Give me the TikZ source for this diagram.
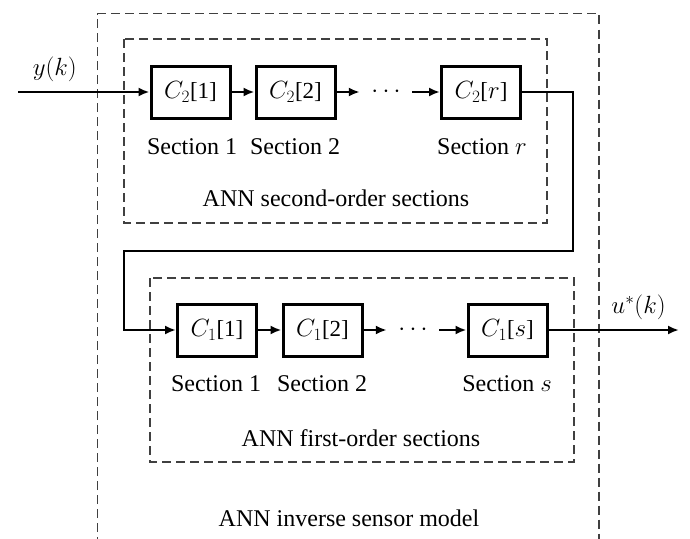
\documentclass[tikz,border=0pt]{standalone}
\usepackage{fontspec}
\setmainfont{Liberation Serif}
\usetikzlibrary{arrows.meta,positioning}
\tikzset{%
  >={Latex[length=11pt,width=9pt]},
  block/.style={draw,line width=3pt,minimum width=79pt,minimum height=52pt,
    inner sep=0pt,font=\fontsize{23}{26}\selectfont},
  label/.style={inner sep=0pt,font=\fontsize{24}{27}\selectfont},
  dots/.style={label,minimum width=52pt},
  group/.style={draw=black!75,line width=1.5pt,dash pattern=on 9pt off 5pt},
  wire/.style={line width=2.6pt}
}
\begin{document}
\begin{tikzpicture}[x=1pt,y=-1pt]
\useasboundingbox (0,0) rectangle (690,538);
\clip (0,0) rectangle (690,538);

%% dashed groups
\draw[group] (97.5,560) -- (97.5,13.5) -- (599,13.5) -- (599,560);
\draw[group] (124,39) rectangle (547,223);
\draw[group] (150,278) rectangle (574,462);

%% second-order sections
\node[block] (c21) at (190.5,92) {$C_2$[1]};
\node[block] (c22) at (295.5,92) {$C_2$[2]};
\node[block] (c2r) at (481,92) {$C_2$[$r$]};
\node[dots] (dots2) at (386,92) {$\cdots$};
\coordinate (in) at (18,92);

%% first-order sections
\node[block] (c11) at (217,330) {$C_1$[1]};
\node[block] (c12) at (322.5,330) {$C_1$[2]};
\node[block] (c1s) at (507.5,330) {$C_1$[$s$]};
\node[dots] (dots1) at (413,330) {$\cdots$};
\coordinate (out) at (679,330);

%% labels
\node[label] at (192,147) {Section 1};
\node[label] at (295,147) {Section 2};
\node[label] at (482,147) {Section $r$};
\node[label] at (336,198) {ANN second-order sections};
\node[label] at (216,384) {Section 1};
\node[label] at (322,384) {Section 2};
\node[label] at (507,384) {Section $s$};
\node[label] at (361,438) {ANN first-order sections};
\node[label] at (349,518) {ANN inverse sensor model};

%% signal flow
\draw[wire,->] (in) -- node[label,above=9pt,pos=0.28] {$y(k)$} (c21);
\draw[wire,->] (c21) -- (c22);
\draw[wire,->] (c22) -- (dots2.west);
\draw[wire,->] (dots2.east) -- (c2r);
\coordinate (fbA) at (573,251);
\coordinate (fbB) at (124,251);
\draw[wire,->] (c2r.east) -| (fbA) -- (fbB) |- (c11.west);
\draw[wire,->] (c11) -- (c12);
\draw[wire,->] (c12) -- (dots1.west);
\draw[wire,->] (dots1.east) -- (c1s);
\draw[wire,->] (c1s) -- node[label,above=9pt,pos=0.69] {$u^{*}(k)$} (out);

\end{tikzpicture}
\end{document}
